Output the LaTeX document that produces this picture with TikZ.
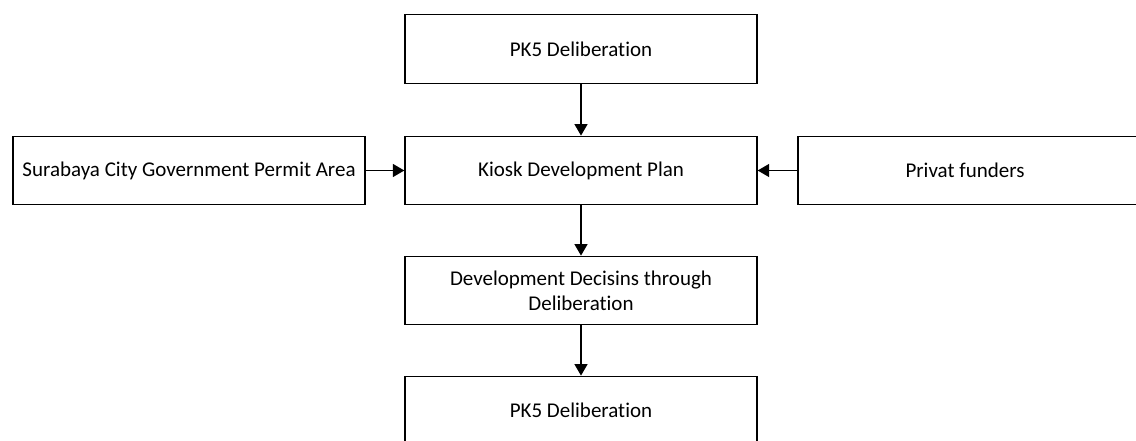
\documentclass[tikz,border=0pt]{standalone}
\usepackage{fontspec}
\setmainfont[Ligatures={NoCommon}]{Carlito}
\usetikzlibrary{arrows.meta}
\tikzset{
  flowbox/.style={draw=black, line width=1.3pt, minimum width=352pt, minimum height=68.5pt, inner sep=0pt, align=center, font=\fontsize{21}{25}\selectfont},
  flowarrow/.style={line width=1.3pt, -{Triangle[length=11.5pt,width=13pt]}}
}
\begin{document}
\begin{tikzpicture}[x=1pt,y=-1pt]
\useasboundingbox (0,0) rectangle (1136,441);
\clip (0,0) rectangle (1136,441);
\node[flowbox] (top) at (581,49) {PK5 Deliberation};
\node[flowbox] (plan) at (581,170.5) {Kiosk Development Plan};
\node[flowbox] (left) at (189,170.5) {Surabaya City Government Permit Area};
\node[flowbox] (right) at (974,170.5) {};
\node[font=\fontsize{21}{25}\selectfont] (righttext) at (965,170.5) {Privat funders};
\node[flowbox] (dev) at (581,290.5) {Development Decisins through\\Deliberation};
\node[flowbox] (bottom) at (581,410.5) {PK5 Deliberation};
\draw[flowarrow] (top) -- (plan);
\draw[flowarrow] (left) -- (plan);
\draw[flowarrow] (right) -- (plan);
\draw[flowarrow] (plan) -- (dev);
\draw[flowarrow] (dev) -- (bottom);
\end{tikzpicture}
\end{document}
